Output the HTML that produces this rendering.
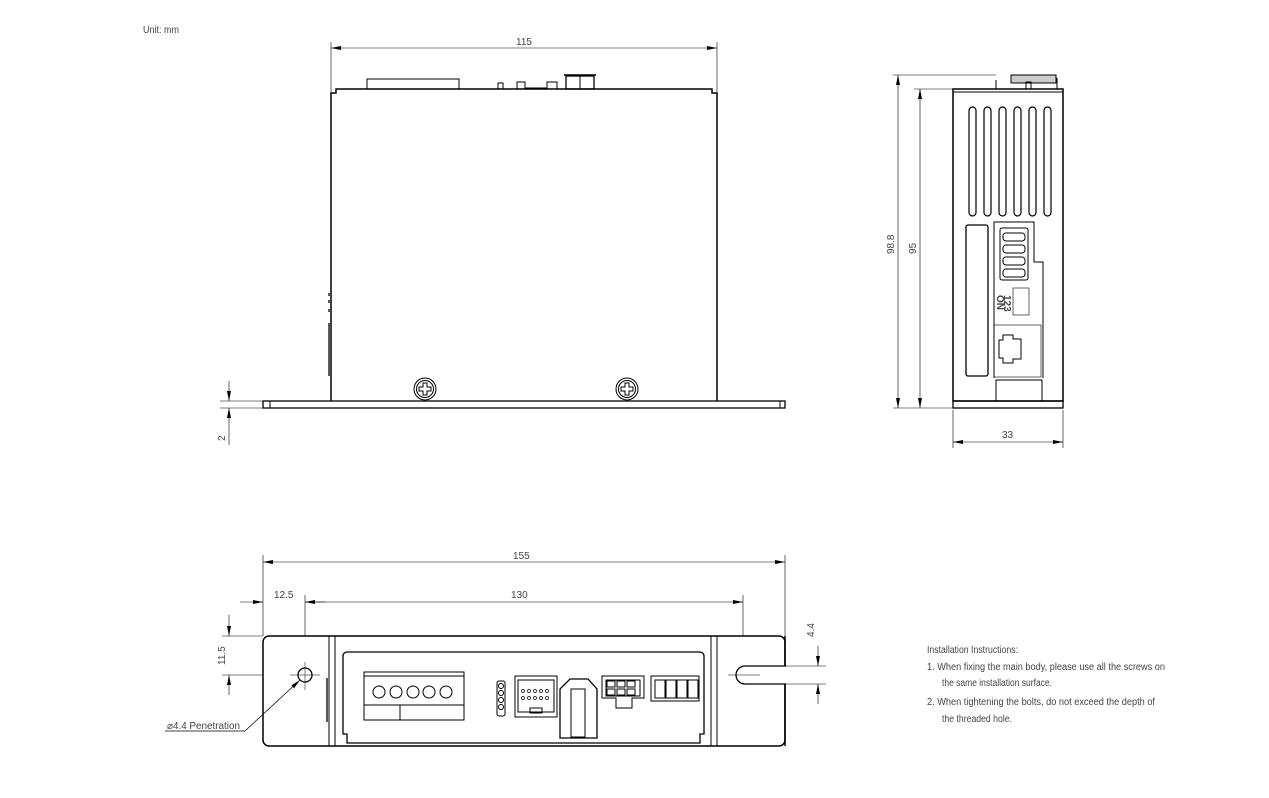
<!DOCTYPE html>
<html><head><meta charset="utf-8"><style>
html,body{margin:0;padding:0;background:#fff;width:1269px;height:798px;overflow:hidden}
svg{display:block}
text{font-family:"Liberation Sans Narrow","Liberation Sans",sans-serif;fill:#444;font-size:10px}
</style></head><body>
<svg width="1269" height="798" viewBox="0 0 1269 798" xmlns="http://www.w3.org/2000/svg">
<defs>
<marker id="a" viewBox="0 0 10 4" refX="10" refY="2" markerWidth="10" markerHeight="4" orient="auto-start-reverse" markerUnits="userSpaceOnUse"><path d="M0,0 L10,2 L0,4z" fill="#000"/></marker>
</defs>
<g stroke="#000" fill="none" stroke-width="1">
<text x="143" y="33" stroke="none" font-size="9" textLength="36" lengthAdjust="spacingAndGlyphs">Unit: mm</text>

<!-- TOP VIEW -->
<line x1="331" y1="42" x2="331" y2="92" stroke-width="0.6"/>
<line x1="717" y1="42" x2="717" y2="92" stroke-width="0.6"/>
<line x1="331" y1="48" x2="717" y2="48" stroke-width="0.6" marker-start="url(#a)" marker-end="url(#a)"/>
<text x="516" y="45" stroke="none" font-size="10">115</text>
<path d="M331,401 V93 H336 V89 H712 V93 H717 V401" stroke-width="1.5"/>
<rect x="367" y="79" width="92" height="10"/>
<rect x="498" y="83" width="5" height="6"/>
<rect x="517" y="82" width="8" height="7"/>
<rect x="547" y="82" width="10" height="7"/>
<line x1="525" y1="88" x2="547" y2="88"/>
<rect x="566" y="76" width="28" height="13" stroke-width="1.3"/>
<line x1="580" y1="76" x2="580" y2="89"/>
<line x1="564" y1="75" x2="596" y2="75" stroke-width="1.5"/>
<line x1="329" y1="323" x2="329" y2="376" stroke-width="1.3"/>
<line x1="329" y1="293" x2="329" y2="296" stroke-width="1.3"/>
<line x1="329" y1="300" x2="329" y2="303" stroke-width="1.3"/>
<line x1="329" y1="309" x2="329" y2="312" stroke-width="1.3"/>
<rect x="263" y="401" width="522" height="7" stroke-width="1.3"/>
<line x1="270" y1="401" x2="270" y2="408"/>
<line x1="780" y1="401" x2="780" y2="408"/>
<g stroke-width="1">
<circle cx="425" cy="389" r="11"/><circle cx="425" cy="389" r="8.5"/>
<path d="M423,383h4v4h4v4h-4v4h-4v-4h-4v-4h4z"/>
<circle cx="627" cy="389" r="11"/><circle cx="627" cy="389" r="8.5"/>
<path d="M625,383h4v4h4v4h-4v4h-4v-4h-4v-4h4z"/>
</g>
<line x1="220" y1="401" x2="263" y2="401" stroke-width="0.6"/>
<line x1="220" y1="408" x2="263" y2="408" stroke-width="0.6"/>
<line x1="229" y1="381" x2="229" y2="401" stroke-width="0.6" marker-end="url(#a)"/>
<line x1="229" y1="428" x2="229" y2="408" stroke-width="0.6" marker-end="url(#a)"/>
<line x1="229" y1="428" x2="229" y2="445" stroke-width="0.6"/>
<text x="0" y="0" stroke="none" transform="translate(225,441) rotate(-90)">2</text>

<!-- SIDE VIEW -->
<line x1="893" y1="75" x2="996" y2="75" stroke-width="0.6"/>
<line x1="914" y1="89" x2="953" y2="89" stroke-width="0.6"/>
<line x1="893" y1="408" x2="953" y2="408" stroke-width="0.6"/>
<line x1="898" y1="75" x2="898" y2="408" stroke-width="0.6" marker-start="url(#a)" marker-end="url(#a)"/>
<line x1="920" y1="89" x2="920" y2="408" stroke-width="0.6" marker-start="url(#a)" marker-end="url(#a)"/>
<text x="0" y="0" stroke="none" transform="translate(894,254) rotate(-90)">98.8</text>
<text x="0" y="0" stroke="none" transform="translate(916,254) rotate(-90)">95</text>
<rect x="953" y="89" width="110" height="312" stroke-width="1.5"/>
<line x1="953" y1="92" x2="1063" y2="92"/>
<rect x="953" y="401" width="110" height="7" stroke-width="1.3"/>
<line x1="996" y1="89" x2="996" y2="80"/><line x1="1057" y1="89" x2="1057" y2="78"/>
<rect x="1011" y="75" width="45" height="8" fill="#ccc"/>
<rect x="1026" y="82" width="5" height="7"/>
<g stroke-width="1.2">
<rect x="969" y="107" width="7" height="109" rx="3.5"/>
<rect x="984" y="107" width="7" height="109" rx="3.5"/>
<rect x="999" y="107" width="7" height="109" rx="3.5"/>
<rect x="1014" y="107" width="7" height="109" rx="3.5"/>
<rect x="1029" y="107" width="7" height="109" rx="3.5"/>
<rect x="1044" y="107" width="7" height="109" rx="3.5"/>
</g>
<rect x="966" y="225" width="22" height="151" rx="2" stroke-width="1.3"/>
<path d="M994,378 V222 H1034 V262 H1043 V378" />
<rect x="1000" y="228" width="28" height="52" rx="2"/>
<rect x="1003" y="233" width="22" height="8" rx="3"/>
<rect x="1003" y="245" width="22" height="8" rx="3"/>
<rect x="1003" y="257" width="22" height="8" rx="3"/>
<rect x="1003" y="269" width="22" height="8" rx="3"/>
<rect x="1013" y="288" width="16" height="27" stroke-width="0.6"/>
<text x="0" y="0" stroke="none" font-size="8" font-weight="bold" fill="#000" transform="translate(997,295) rotate(90)">ON</text>
<text x="0" y="0" stroke="none" font-size="8" font-weight="bold" fill="#000" transform="translate(1004,295) rotate(90)">123</text>
<rect x="994" y="325" width="47" height="52" stroke-width="0.6"/>
<path d="M999,340h4v-5h10v4h8v20h-8v4h-10v-5h-4z"/>
<rect x="996" y="380" width="46" height="21"/>
<line x1="953" y1="410" x2="953" y2="448" stroke-width="0.6"/>
<line x1="1063" y1="410" x2="1063" y2="448" stroke-width="0.6"/>
<line x1="953" y1="442" x2="1063" y2="442" stroke-width="0.6" marker-start="url(#a)" marker-end="url(#a)"/>
<text x="1002" y="438" stroke="none">33</text>

<!-- BOTTOM VIEW -->
<line x1="263" y1="555" x2="263" y2="636" stroke-width="0.6"/>
<line x1="785" y1="555" x2="785" y2="636" stroke-width="0.6"/>
<line x1="263" y1="562" x2="785" y2="562" stroke-width="0.6" marker-start="url(#a)" marker-end="url(#a)"/>
<text x="513" y="559" stroke="none">155</text>
<line x1="305" y1="595" x2="305" y2="690" stroke-width="0.6"/>
<line x1="743" y1="595" x2="743" y2="692" stroke-width="0.6"/>
<line x1="305" y1="602" x2="743" y2="602" stroke-width="0.6" marker-start="url(#a)" marker-end="url(#a)"/>
<line x1="240" y1="602" x2="263" y2="602" stroke-width="0.6" marker-end="url(#a)"/>
<line x1="325" y1="602" x2="305" y2="602" stroke-width="0.6"/>
<text x="511" y="598" stroke="none">130</text>
<text x="274" y="598" stroke="none">12.5</text>
<line x1="222" y1="636" x2="263" y2="636" stroke-width="0.6"/>
<line x1="222" y1="675" x2="322" y2="675" stroke-width="0.6"/>
<line x1="229" y1="615" x2="229" y2="636" stroke-width="0.6" marker-end="url(#a)"/>
<line x1="229" y1="695" x2="229" y2="675" stroke-width="0.6" marker-end="url(#a)"/>
<text x="0" y="0" stroke="none" transform="translate(225,665) rotate(-90)">11.5</text>
<rect x="263" y="636" width="522" height="110" rx="6" stroke-width="1.5" fill="#fff"/>
<path d="M786,666 H745 a9,9 0 0 0 0,18 H786" fill="#fff" stroke-width="1.3"/>
<line x1="785" y1="636" x2="785" y2="666" stroke-width="1.5"/>
<line x1="785" y1="684" x2="785" y2="746" stroke-width="1.5"/>
<line x1="785" y1="666" x2="826" y2="666" stroke-width="0.6"/>
<line x1="785" y1="684" x2="826" y2="684" stroke-width="0.6"/>
<line x1="728" y1="675" x2="760" y2="675" stroke-width="0.5"/>
<line x1="818" y1="646" x2="818" y2="666" stroke-width="0.6" marker-end="url(#a)"/>
<line x1="818" y1="704" x2="818" y2="684" stroke-width="0.6" marker-end="url(#a)"/>
<text x="0" y="0" stroke="none" transform="translate(814,637) rotate(-90)">4.4</text>
<line x1="329" y1="636" x2="329" y2="746"/><line x1="335" y1="636" x2="335" y2="746"/>
<line x1="711" y1="636" x2="711" y2="746"/><line x1="717" y1="636" x2="717" y2="746"/>
<line x1="327" y1="678" x2="327" y2="722" stroke-width="1.3"/>
<path d="M347,652 H700 a4,4 0 0 1 4,4 V734 H700 V743 H347 V734 H343 V656 a4,4 0 0 1 4,-4z" stroke-width="1.3"/>
<circle cx="305" cy="675" r="7" stroke-width="1.3"/>
<line x1="305" y1="662" x2="305" y2="690" stroke-width="0.5"/>
<line x1="290" y1="675" x2="320" y2="675" stroke-width="0.5"/>
<line x1="300" y1="680" x2="245" y2="731" stroke-width="0.7" marker-start="url(#a)"/>
<line x1="165" y1="731" x2="245" y2="731" stroke-width="0.7"/>
<text x="167" y="729" stroke="none" fill="#000" textLength="73" lengthAdjust="spacingAndGlyphs">⌀4.4 Penetration</text>
<!-- connectors -->
<rect x="364" y="672" width="100" height="48"/>
<line x1="364" y1="676" x2="464" y2="676"/>
<line x1="364" y1="705" x2="464" y2="705"/>
<line x1="400" y1="705" x2="400" y2="720"/>
<circle cx="379" cy="692" r="6"/><circle cx="396" cy="692" r="6"/><circle cx="413" cy="692" r="6"/><circle cx="429" cy="692" r="6"/><circle cx="446" cy="692" r="6"/>
<rect x="497" y="681" width="8" height="35" rx="2"/>
<circle cx="501" cy="686" r="2.5"/><circle cx="501" cy="693" r="2.5"/><circle cx="501" cy="700" r="2.5"/><circle cx="501" cy="707" r="2.5"/>
<path d="M515,676 H557 V717 H515z"/>
<rect x="518" y="680" width="36" height="32"/>
<rect x="530" y="708" width="12" height="5"/>
<g stroke-width="0.7"><circle cx="523" cy="691" r="1.5"/><circle cx="529" cy="691" r="1.5"/><circle cx="535" cy="691" r="1.5"/><circle cx="541" cy="691" r="1.5"/><circle cx="547" cy="691" r="1.5"/>
<circle cx="523" cy="698" r="1.5"/><circle cx="529" cy="698" r="1.5"/><circle cx="535" cy="698" r="1.5"/><circle cx="541" cy="698" r="1.5"/><circle cx="547" cy="698" r="1.5"/></g>
<path d="M560,717 V689 L570,679 H588 L597,689 V738 H560z" stroke-width="1.3"/>
<rect x="571" y="689" width="14" height="48"/>
<path d="M602,676 H644 V698 H632 V708 H616 V698 H602z"/>
<rect x="606" y="680" width="34" height="16"/>
<rect x="607" y="681" width="8" height="6"/><rect x="617" y="681" width="8" height="6"/><rect x="627" y="681" width="8" height="6"/>
<rect x="607" y="689" width="8" height="6"/><rect x="617" y="689" width="8" height="6"/><rect x="627" y="689" width="8" height="6"/>
<rect x="651" y="676" width="48" height="25"/>
<rect x="655" y="680" width="10" height="18"/><rect x="666" y="680" width="10" height="18"/><rect x="677" y="680" width="10" height="18"/><rect x="688" y="680" width="10" height="18"/>
</g>
<g font-size="9">
<text x="927" y="653" fill="#333" textLength="91" lengthAdjust="spacingAndGlyphs">Installation Instructions:</text>
<text x="927" y="670" fill="#333" textLength="238" lengthAdjust="spacingAndGlyphs">1. When fixing the main body, please use all the screws on</text>
<text x="942" y="686" fill="#333" textLength="110" lengthAdjust="spacingAndGlyphs">the same installation surface.</text>
<text x="927" y="705" fill="#333" textLength="228" lengthAdjust="spacingAndGlyphs">2. When tightening the bolts, do not exceed the depth of</text>
<text x="942" y="722" fill="#333" textLength="70" lengthAdjust="spacingAndGlyphs">the threaded hole.</text>
</g>
</svg>
</body></html>
